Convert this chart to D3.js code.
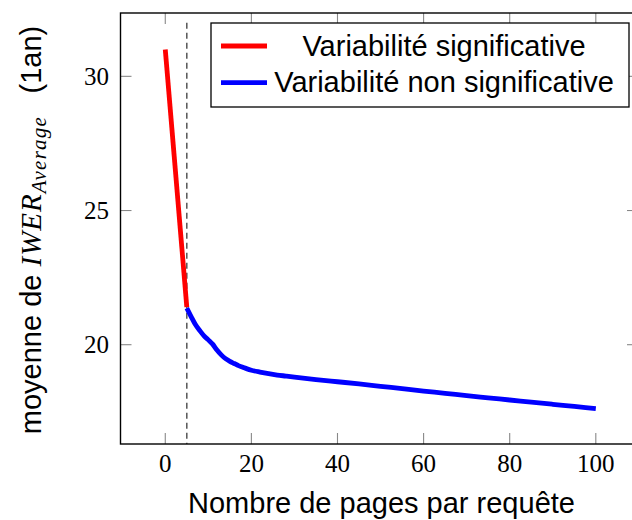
<!DOCTYPE html>
<html><head><meta charset="utf-8">
<script src="https://cdn.jsdelivr.net/npm/d3@7"></script>
<style>body{margin:0;background:#fff}svg{display:block}</style>
</head><body>
<svg id="c" width="632" height="520"></svg>
<script>
const redX = [0, 5];
const redY = [31.0, 21.4];
const blueX = [5,6,7,8,9,10,11,12,13,14,15,16,17,18,19,20,22,24,26,28,30,35,40,45,50,55,60,65,70,75,80,85,90,95,100];
const blueY = [21.36,21.05,20.75,20.53,20.33,20.18,20.02,19.8,19.62,19.48,19.38,19.3,19.22,19.16,19.1,19.05,18.98,18.92,18.87,18.83,18.79,18.70,18.62,18.54,18.45,18.36,18.27,18.19,18.1,18.02,17.94,17.86,17.78,17.7,17.62];
const xTicks = [0,20,40,60,80,100];
const yTicks = [20,25,30];
const legendLabels = ["Variabilité significative","Variabilité non significative"];
const thresholdX = 5;

const svg = d3.select("#c");
const L=120.5, R=638, T=13, B=444;
const x = d3.scaleLinear().domain([-10.4,109.8]).range([L,R]);
const y = d3.scaleLinear().domain([16.3,32.36]).range([B,T]);

// ticks (inside, all four sides)
const tk = svg.append("g").attr("stroke","#888").attr("stroke-width",1.1);
xTicks.forEach(v=>{
  tk.append("line").attr("x1",x(v)).attr("x2",x(v)).attr("y1",B).attr("y2",B-11);
  tk.append("line").attr("x1",x(v)).attr("x2",x(v)).attr("y1",T).attr("y2",T+11);
});
yTicks.forEach(v=>{
  tk.append("line").attr("x1",L).attr("x2",L+11).attr("y1",y(v)).attr("y2",y(v));
  tk.append("line").attr("x1",R).attr("x2",R-11).attr("y1",y(v)).attr("y2",y(v));
});

// dashed threshold
svg.append("line").attr("x1",x(thresholdX)).attr("x2",x(thresholdX))
  .attr("y1",y(32)).attr("y2",B).attr("stroke","#555").attr("stroke-width",1.5)
  .attr("stroke-dasharray","6,4");

const line = d3.line().x(d=>x(d[0])).y(d=>y(d[1]));
svg.append("path").datum(redX.map((v,i)=>[v,redY[i]])).attr("d",line)
  .attr("fill","none").attr("stroke","#ff0000").attr("stroke-width",4.8);
svg.append("path").datum(blueX.map((v,i)=>[v,blueY[i]])).attr("d",d3.line().x(d=>x(d[0])).y(d=>y(d[1])).curve(d3.curveMonotoneX))
  .attr("fill","none").attr("stroke","#0000ff").attr("stroke-width",4.8);

// frame
svg.append("rect").attr("x",L).attr("y",T).attr("width",R-L).attr("height",B-T)
  .attr("fill","none").attr("stroke","#000").attr("stroke-width",1.4);

// tick labels
const serif = "'Liberation Serif', serif";
xTicks.forEach(v=>{
  svg.append("text").attr("x",x(v)).attr("y",472).attr("text-anchor","middle")
    .attr("font-family",serif).attr("font-size",25).text(v);
});
yTicks.forEach(v=>{
  svg.append("text").attr("x",109).attr("y",y(v)+8.5).attr("text-anchor","end")
    .attr("font-family",serif).attr("font-size",25).text(v);
});

// legend
const sans = "'Liberation Sans', Arial, sans-serif";
svg.append("rect").attr("x",211).attr("y",23).attr("width",418).attr("height",84)
  .attr("fill","#fff").attr("stroke","#000").attr("stroke-width",1.3);
const lc = ["#ff0000","#0000ff"];
legendLabels.forEach((t,i)=>{
  const ly = 46 + i*36.7;
  svg.append("line").attr("x1",221).attr("x2",267).attr("y1",ly).attr("y2",ly)
    .attr("stroke",lc[i]).attr("stroke-width",4.8);
  svg.append("text").attr("x",444).attr("y",ly+9.5).attr("text-anchor","middle")
    .attr("font-family",sans).attr("font-size",29).text(t);
});

// x label
svg.append("text").attr("x",381.5).attr("y",513).attr("text-anchor","middle")
  .attr("font-family",sans).attr("font-size",29).text("Nombre de pages par requête");

// y label
const yl = svg.append("text").attr("transform","translate(41,230) rotate(-90)")
  .attr("text-anchor","middle").attr("font-family",sans).attr("font-size",29);
yl.append("tspan").text("moyenne de ");
yl.append("tspan").attr("font-family",serif).attr("font-style","italic").attr("font-size",29).attr("letter-spacing",1).text("IWER");
yl.append("tspan").attr("font-family",serif).attr("font-style","italic").attr("font-size",21).attr("letter-spacing",1.2).attr("dy",5).text("Average");
yl.append("tspan").attr("dy",-5).text("\u2002 (1an)");
</script>
</body></html>
